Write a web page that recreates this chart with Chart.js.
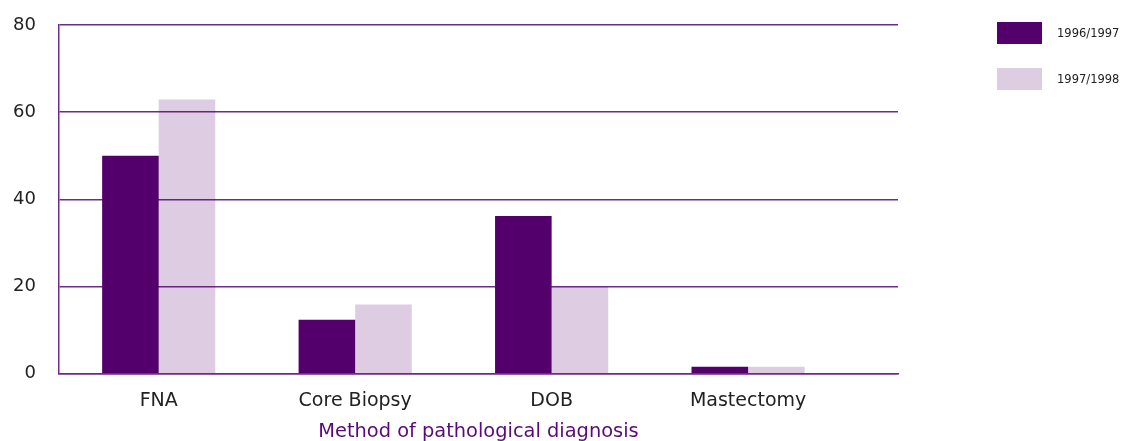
<!DOCTYPE html>
<html>
<head>
<meta charset="utf-8">
<script src="https://cdn.jsdelivr.net/npm/chart.js@4/dist/chart.umd.min.js"></script>
<style>
  body { margin: 0; background: #fff; }
  #wrap { position: relative; width: 1133px; height: 441px; }
  #legend { position: absolute; left: 997px; top: 22px; font-family: 'DejaVu Sans', sans-serif; font-size: 11.5px; color: #222; }
  .item { display: flex; align-items: center; height: 22px; margin-bottom: 24px; }
  .swatch { width: 45px; height: 22px; margin-right: 15px; }
</style>
</head>
<body>
<div id="wrap">
  <canvas id="chart"></canvas>
  <div id="legend"></div>
</div>
<script>
// categories and series
const categories = ['FNA', 'Core Biopsy', 'DOB', 'Mastectomy'];
const seriesNames = ['1996/1997', '1997/1998'];
const values9697 = [50, 12.4, 36.2, 1.6];
const values9798 = [62.9, 15.9, 19.9, 1.6];
const yTicks = [0, 20, 40, 60, 80];
const axisTitle = 'Method of pathological diagnosis';

const colors = ['#54006c', 'rgba(84, 0, 108, 0.2)'];
const lineColor = '#6e2a8a';
const font = 'DejaVu Sans';

const toPoints = (arr) => arr.map((v, i) => ({ x: i, y: v }));

// legend as plain html
const legendEl = document.getElementById('legend');
seriesNames.forEach((name, i) => {
    const row = document.createElement('div');
    row.className = 'item';
    row.innerHTML = `<div class="swatch" style="background:${colors[i]}"></div><span>${name}</span>`;
    legendEl.appendChild(row);
});

const ctx = document.getElementById('chart').getContext('2d');
new Chart(ctx, {
    type: 'bar',
    data: {
        datasets: [
            { label: seriesNames[0], data: toPoints(values9697), backgroundColor: colors[0], borderWidth: 0 },
            { label: seriesNames[1], data: toPoints(values9798), backgroundColor: colors[1], borderWidth: 0 }
        ]
    },
    options: {
        responsive: true, maintainAspectRatio: false, animation: false,
        layout: { autoPadding: false, padding: { top: 25, right: 235, left: -10, bottom: 0 } },
        categoryPercentage: 0.576, barPercentage: 1,
        plugins: { legend: { display: false }, tooltip: { enabled: false } },
        scales: {
            x: {
                type: 'linear', min: -0.508, max: 3.763, offset: false,
                grid: { display: false },
                border: { display: true, color: lineColor, width: 1.5 },
                afterBuildTicks: (axis) => { axis.ticks = categories.map((c, i) => ({ value: i })); },
                ticks: {
                    padding: 8, color: '#222',
                    font: { family: font, size: 19 },
                    callback: (v) => categories[v]
                },
                title: {
                    display: true, text: axisTitle, color: '#5a0a78',
                    font: { family: font, size: 19.4, lineHeight: 1 },
                    padding: { top: 2, bottom: -1 }
                }
            },
            y: {
                min: 0, max: 80,
                afterBuildTicks: (axis) => { axis.ticks = yTicks.map(v => ({ value: v })); },
                grid: { color: lineColor, lineWidth: 1.5, drawTicks: false },
                border: { display: true, color: lineColor, width: 1.5 },
                ticks: {
                    padding: 23, color: '#222',
                    // small lineHeight keeps the top label from pushing the plot down
                    font: { family: font, size: 18, lineHeight: 0.2 }
                }
            }
        }
    }
});
</script>
</body>
</html>
